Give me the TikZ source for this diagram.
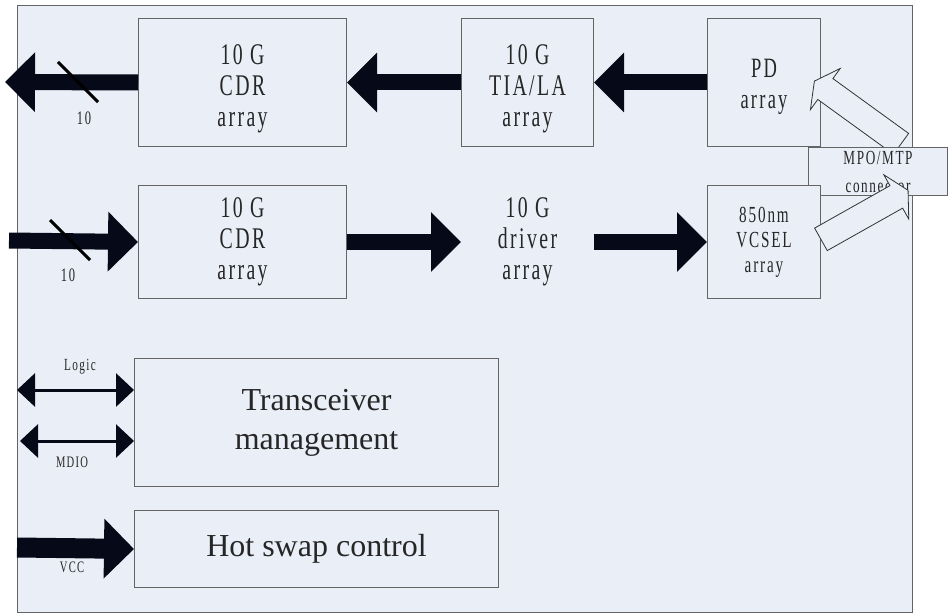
\documentclass[tikz,border=0pt]{standalone}
\usepackage{fontspec}
\setmainfont{Liberation Serif}
\newfontfamily\narrowfont[FakeStretch=0.66,LetterSpace=8]{Liberation Serif}
\usepackage{tikz}
\usetikzlibrary{positioning, arrows.meta, shapes.arrows}
\definecolor{panel}{RGB}{233,238,247}
\definecolor{edge}{RGB}{100,100,100}
\definecolor{ink}{RGB}{6,10,24}

\begin{document}
\begin{tikzpicture}
		[x=1pt, y=-1pt,
		blk/.style={rectangle, draw=edge, fill=panel, line width=1pt, inner sep=0pt, align=center, text=black!85, font=\narrowfont\fontsize{30}{31}\selectfont},
		fat/.style={-{Triangle[length=30pt,width=58pt]}, line width=16pt, draw=ink},
		twoway/.style={{Triangle[length=18pt,width=33pt]}-{Triangle[length=18pt,width=33pt]}, line width=3pt, draw=ink},
		hollow/.style={single arrow, draw=black!80, fill=panel, line width=0.8pt, single arrow head extend=12.5pt, single arrow tip angle=124, inner sep=0pt, sloped, allow upside down},
		lbl/.style={font=\narrowfont\fontsize{19}{19}\selectfont, text=black!85, inner sep=0pt}]
		\useasboundingbox (0,0) rectangle (948,615);
		% nodes %
		\node[draw=edge, fill=panel, line width=1.2pt, minimum width=895pt, minimum height=607pt, anchor=north west, inner sep=0pt] (frame) at (17,5) {};
		\node[blk, minimum width=208pt, minimum height=128pt, anchor=north west] (cdrrx) at (138,18) {\rule{0pt}{32pt}10 G\\CDR\\array};
		\node[blk, minimum width=132pt, minimum height=128pt, right=114pt of cdrrx] (tia) {\rule{0pt}{32pt}10 G\\TIA/LA\\array};
		\node[blk, minimum width=113pt, minimum height=128pt, right=113pt of tia, font=\narrowfont\fontsize{28}{31}\selectfont] (pd) {\rule{0pt}{28pt}PD\\array};
		\node[blk, minimum width=208pt, minimum height=113pt, below=38pt of cdrrx] (cdrtx) {10 G\\CDR\\array};
		\node[blk, draw=none, minimum width=132pt, minimum height=113pt, below=38pt of tia] (drv) {10 G\\driver\\array};
		\node[blk, minimum width=364pt, minimum height=128pt, anchor=north west, font=\fontsize{32}{39}\selectfont] (mgmt) at (134,358) {Transceiver\\management};
		\node[blk, minimum width=364pt, minimum height=77pt, below=23pt of mgmt, font=\fontsize{32}{39}\selectfont] (hot) {Hot swap control};

		% optical side %
		\coordinate (rxtail) at (904,146);
		\coordinate (rxtip) at (817,83);
		\path (rxtail) -- (rxtip) node[hollow, midway, minimum height=107pt] (rxlight) {\rule{0pt}{25pt}};
		\node[blk, minimum width=139pt, minimum height=48pt, anchor=north west, font=\narrowfont\fontsize{20}{28}\selectfont] (mpo) at (808,147) {MPO/MTP\\connector};
		\node[blk, minimum width=113pt, minimum height=113pt, below=38pt of pd, font=\narrowfont\fontsize{23}{25}\selectfont] (vcsel) {850nm\\VCSEL\\array};
		\coordinate (txtail) at (818,241);
		\coordinate (txtip) at (905,192);
		\path (txtail) -- (txtip) node[hollow, midway, minimum height=100pt] (txlight) {\rule{0pt}{25pt}};

		% edges %
		\coordinate (rxout) at (5,82);
		\coordinate (txin) at (9,240.5);
		\coordinate (logicin) at (17,390);
		\coordinate (mdioin) at (20,441);
		\coordinate (vccin) at (17,547.5);
		\draw[fat] (cdrrx.west) -- (rxout);
		\draw[fat] (tia.west) -- (cdrrx.east);
		\draw[fat] (pd.west) -- (tia.east);
		\draw[fat] (txin) -- (cdrtx.west);
		\draw[fat] (cdrtx.east) -- (drv.west);
		\draw[fat] (drv.east) -- (vcsel.west);
		\draw[twoway] (logicin) -- (logicin -| mgmt.west);
		\draw[twoway] (mdioin) -- (mdioin -| mgmt.west);
		\draw[fat, line width=20pt] (vccin) -- (hot.west);
		\draw[line width=3pt] (58,62) -- (98,102);
		\draw[line width=3pt] (50,220) -- (90,260);

		% labels %
		\node[lbl] (rxnum) at (84,118) {10};
		\node[lbl] (txnum) at (68,275) {10};
		\node[lbl, font=\narrowfont\fontsize{17}{17}\selectfont] (logic) at (80,367) {Logic};
		\node[lbl, font=\narrowfont\fontsize{16}{16}\selectfont] (mdio) at (72,462) {MDIO};
		\node[lbl, font=\narrowfont\fontsize{16}{16}\selectfont] (vcc) at (72,567) {VCC};
		\end{tikzpicture}
\end{document}
